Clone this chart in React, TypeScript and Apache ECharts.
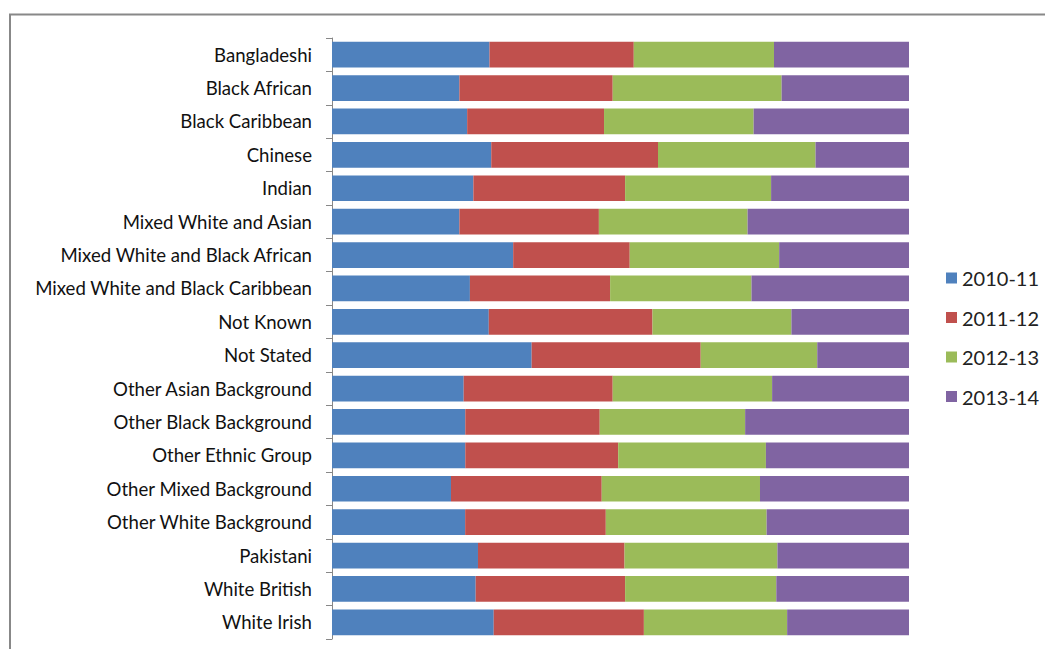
import React, { useEffect, useRef } from "react";
import * as echarts from "echarts";

const categories = [
  "Bangladeshi",
  "Black African",
  "Black Caribbean",
  "Chinese",
  "Indian",
  "Mixed White and Asian",
  "Mixed White and Black African",
  "Mixed White and Black Caribbean",
  "Not Known",
  "Not Stated",
  "Other Asian Background",
  "Other Black Background",
  "Other Ethnic Group",
  "Other Mixed Background",
  "Other White Background",
  "Pakistani",
  "White British",
  "White Irish",
];

const seriesNames = ["2010-11", "2011-12", "2012-13", "2013-14"];

const v2010 = [27.3, 22.1, 23.4, 27.6, 24.5, 22.1, 31.4, 23.9, 27.2, 34.6, 22.8, 23.1, 23.1, 20.6, 23.1, 25.3, 24.9, 28.0];
const v2011 = [25.0, 26.6, 23.7, 28.9, 26.3, 24.2, 20.2, 24.3, 28.4, 29.3, 25.8, 23.3, 26.5, 26.1, 24.4, 25.4, 25.9, 26.0];
const v2012 = [24.3, 29.3, 25.9, 27.3, 25.3, 25.8, 25.9, 24.5, 24.1, 20.2, 27.6, 25.2, 25.6, 27.4, 27.9, 26.5, 26.2, 24.8];
const v2013 = [23.4, 22.1, 26.9, 16.2, 23.9, 28.0, 22.5, 27.3, 20.4, 15.9, 23.7, 28.4, 24.8, 25.8, 24.7, 22.8, 23.0, 21.1];

const colors = ["#4F81BD", "#C0504D", "#9BBB59", "#8064A2"];

export default function App() {
  const ref = useRef<HTMLDivElement>(null);
  useEffect(() => {
    document.body.style.margin = "0";
    if (!ref.current) return;
    const chart = echarts.init(ref.current, undefined, { renderer: "svg" });
    const raw = [v2010, v2011, v2012, v2013];
    const totals = categories.map((_, i) => raw.reduce((s, arr) => s + arr[i], 0));
    const font = "Lato, 'Open Sans', sans-serif";
    chart.setOption({
      animation: false,
      backgroundColor: "#ffffff",
      graphic: [
        {
          type: "rect",
          shape: { x: 10, y: 14.5, width: 1200, height: 800 },
          style: { fill: "none", stroke: "#888888", lineWidth: 2 },
          silent: true,
        },
      ],
      legend: {
        orient: "vertical",
        left: 941,
        top: 263,
        itemWidth: 11,
        itemHeight: 11,
        itemGap: 19.5,
        icon: "rect",
        textStyle: { fontSize: 20, color: "#222", fontFamily: font, padding: [0, 0, 0, 0] },
        data: seriesNames,
      },
      grid: { left: 332, right: 136, top: 38, bottom: 10, containLabel: false },
      xAxis: {
        type: "value",
        min: 0,
        max: 100,
        show: false,
        splitLine: { show: false },
      },
      yAxis: {
        type: "category",
        data: categories,
        inverse: true,
        axisLine: { show: true, lineStyle: { color: "#888888", width: 1 } },
        axisTick: { show: true, length: 6, alignWithLabel: false, lineStyle: { color: "#888888" } },
        axisLabel: { fontSize: 18.6, color: "#111", fontFamily: font, margin: 20 },
        splitLine: { show: false },
      },
      series: raw.map((arr, k) => ({
        name: seriesNames[k],
        type: "bar",
        stack: "total",
        barCategoryGap: "23%",
        itemStyle: { color: colors[k] },
        data: arr.map((v, i) => (v / totals[i]) * 100),
      })),
    });
    return () => chart.dispose();
  }, []);
  return <div ref={ref} style={{ width: 1045, height: 649 }} />;
}
